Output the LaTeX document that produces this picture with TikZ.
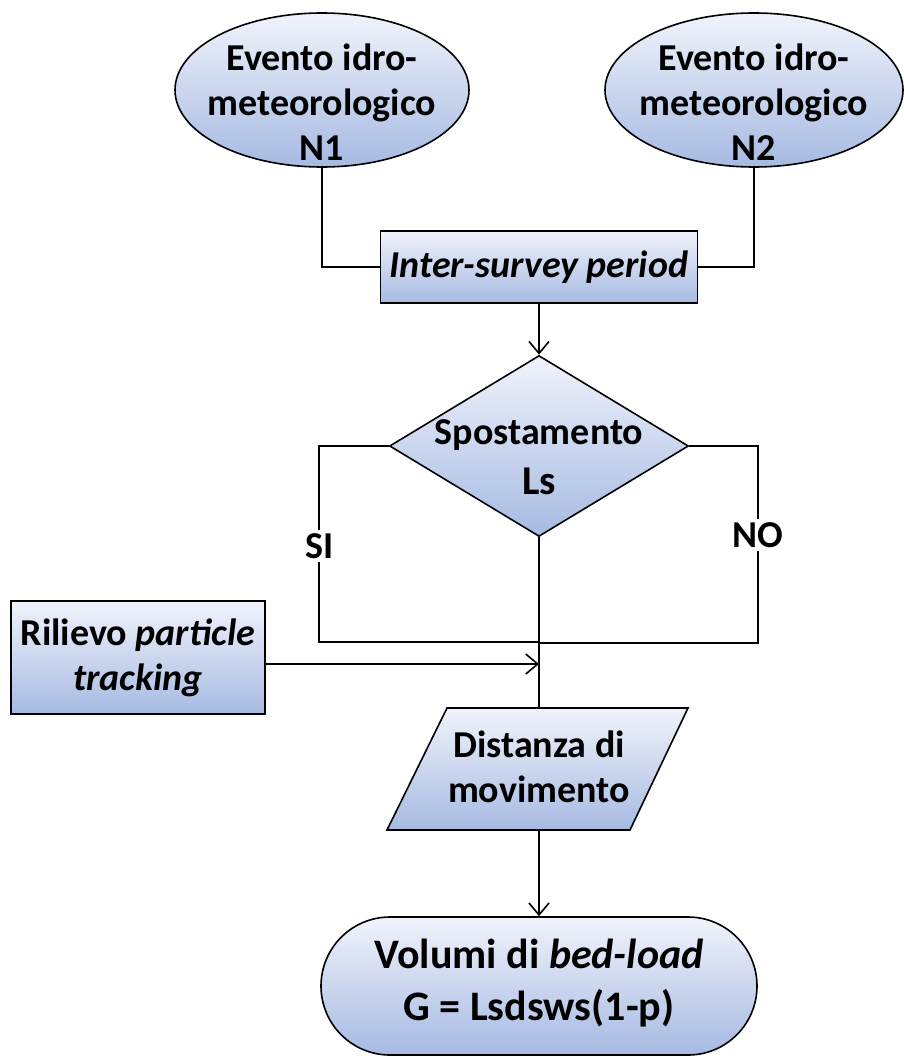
\documentclass[tikz,border=0pt]{standalone}
\usepackage{fontspec}
\setmainfont{Carlito}
\usetikzlibrary{shapes.geometric,shapes.misc,arrows.meta}
\definecolor{ftop}{RGB}{240,243,251}
\definecolor{fbot}{RGB}{166,186,226}
\begin{document}
\begin{tikzpicture}[x=1pt,y=-1pt,
  shp/.style={draw=black, line width=1.6pt, top color=ftop, bottom color=fbot, inner sep=0pt},
  txt/.style={font=\fontsize{38}{45}\selectfont\bfseries, align=center, inner sep=0pt},
  con/.style={line width=1.6pt},
  arr/.style={con, -{Straight Barb[length=12pt,width=20pt,line width=1.6pt]}}]
\useasboundingbox (0,0) rectangle (904,1057);

% top events
\node[shp, ellipse, minimum width=294pt, minimum height=154pt] (n1) at (322,90) {};
\node[txt] (n1t) at (322,102) {Evento idro-\\meteorologico\\N1};
\node[shp, ellipse, minimum width=298pt, minimum height=154pt] (n2) at (754,90) {};
\node[txt] (n2t) at (754,102) {Evento idro-\\meteorologico\\N2};

% inter-survey box
\node[shp, txt, rectangle, minimum width=317pt, minimum height=72pt] (isp) at (539,267) {\itshape Inter-survey period};

% decision
\node[shp, diamond, minimum width=299pt, minimum height=181pt] (dec) at (539,446) {};
\node[txt] (dect) at (539,457) {Spostamento\\[5pt]{\fontsize{41}{45}\selectfont Ls}};

% left input box
\node[shp, txt, rectangle, minimum width=254pt, minimum height=113pt] (ril) at (138,657.5) {Rilievo \textit{particle}\\\textit{tracking}};

% parallelogram
\coordinate (partop) at (539,708);
\coordinate (parbot) at (539,830);
\path[shp] (447,708) -- (688,708) -- (630,830) -- (387,830) -- cycle;
\node[txt] (par) at (539,767) {Distanza di\\movimento};

% terminal
\node[shp, rectangle, rounded corners=69pt, minimum width=436pt, minimum height=138pt] (vol) at (539,986) {};
\node[txt, font=\fontsize{42}{52}\selectfont\bfseries] (volt) at (539,983) {Volumi di \textit{bed-load}\\G = Lsdsws(1-p)};

% connectors
\draw[con] (n1.south) |- (isp.west);
\draw[con] (n2.south) |- (isp.east);
\draw[arr] (isp.south) -- (dec.north);

\coordinate (sicorner) at (319,642);
\coordinate (siend) at (539,642);
\coordinate (nocorner) at (758,643);
\coordinate (noend) at (539,643);
\draw[con] (dec.west) -| (sicorner) -- (siend);
\draw[con] (dec.east) -| (nocorner) -- (noend);
\node[txt, fill=white, inner sep=3pt] (si) at (320,546) {SI};
\node[txt, fill=white, inner sep=3pt] (no) at (758,535) {NO};

\draw[con] (dec.south) -- (partop);
\coordinate (rilin) at (539,664);
\draw[arr] (ril.east |- rilin) -- (rilin);
\draw[arr] (parbot) -- (vol.north);
\end{tikzpicture}
\end{document}
